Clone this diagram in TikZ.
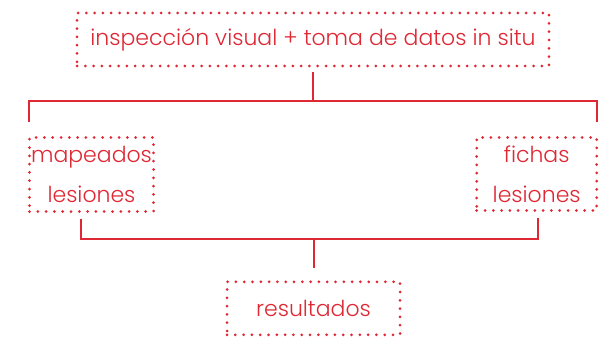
\documentclass[tikz,border=0pt]{standalone}
\usepackage{fontspec}
\setmainfont{Poppins}[UprightFont={* Light}]
\usepackage{tikz}
\usetikzlibrary{calc}
\definecolor{esquemared}{RGB}{222, 40, 52}

\begin{document}
\begin{tikzpicture}[x=1pt, y=-1pt,
    every node/.style={text=esquemared, font=\fontsize{22}{40}\selectfont},
    dotbox/.style={draw=esquemared, line width=3pt, line cap=round,
      dash pattern=on 0pt off 8.3pt, inner sep=0pt, align=center},
    conn/.style={draw=esquemared, line width=2pt}]
    \useasboundingbox (0,0) rectangle (605,337);
    % Boxes
    \node[dotbox, minimum width=472pt, minimum height=53pt] (insp) at (313,39.5) {inspección visual + toma de datos in situ};
    \node[dotbox, minimum width=124pt, minimum height=74pt] (mapeo) at (91.5,174.5) {mapeados\\lesiones};
    \node[dotbox, minimum width=120pt, minimum height=73pt] (fichas) at (536.7,174) {fichas\\lesiones};
    \node[dotbox, minimum width=173pt, minimum height=53pt] (result) at (313.5,308.3) {resultados};
    % Branch points
    \coordinate (topsplit) at (313,101);
    \coordinate (botsplit) at (313.5,239);
    % Connectors
    \draw[conn, shorten <=5pt] (insp.south) -- (topsplit);
    \draw[conn, shorten >=14pt] (topsplit) -| ([xshift=1pt]mapeo.north west);
    \draw[conn, shorten >=14pt] (topsplit) -| ([xshift=-1pt]fichas.north east);
    \draw[conn, shorten <=6pt] ([xshift=-10.5pt]mapeo.south) |- (botsplit);
    \draw[conn, shorten <=6pt] ([xshift=1pt]fichas.south) |- (botsplit);
    \draw[conn, shorten >=12pt] (botsplit) -- (result.north);
\end{tikzpicture}
\end{document}
